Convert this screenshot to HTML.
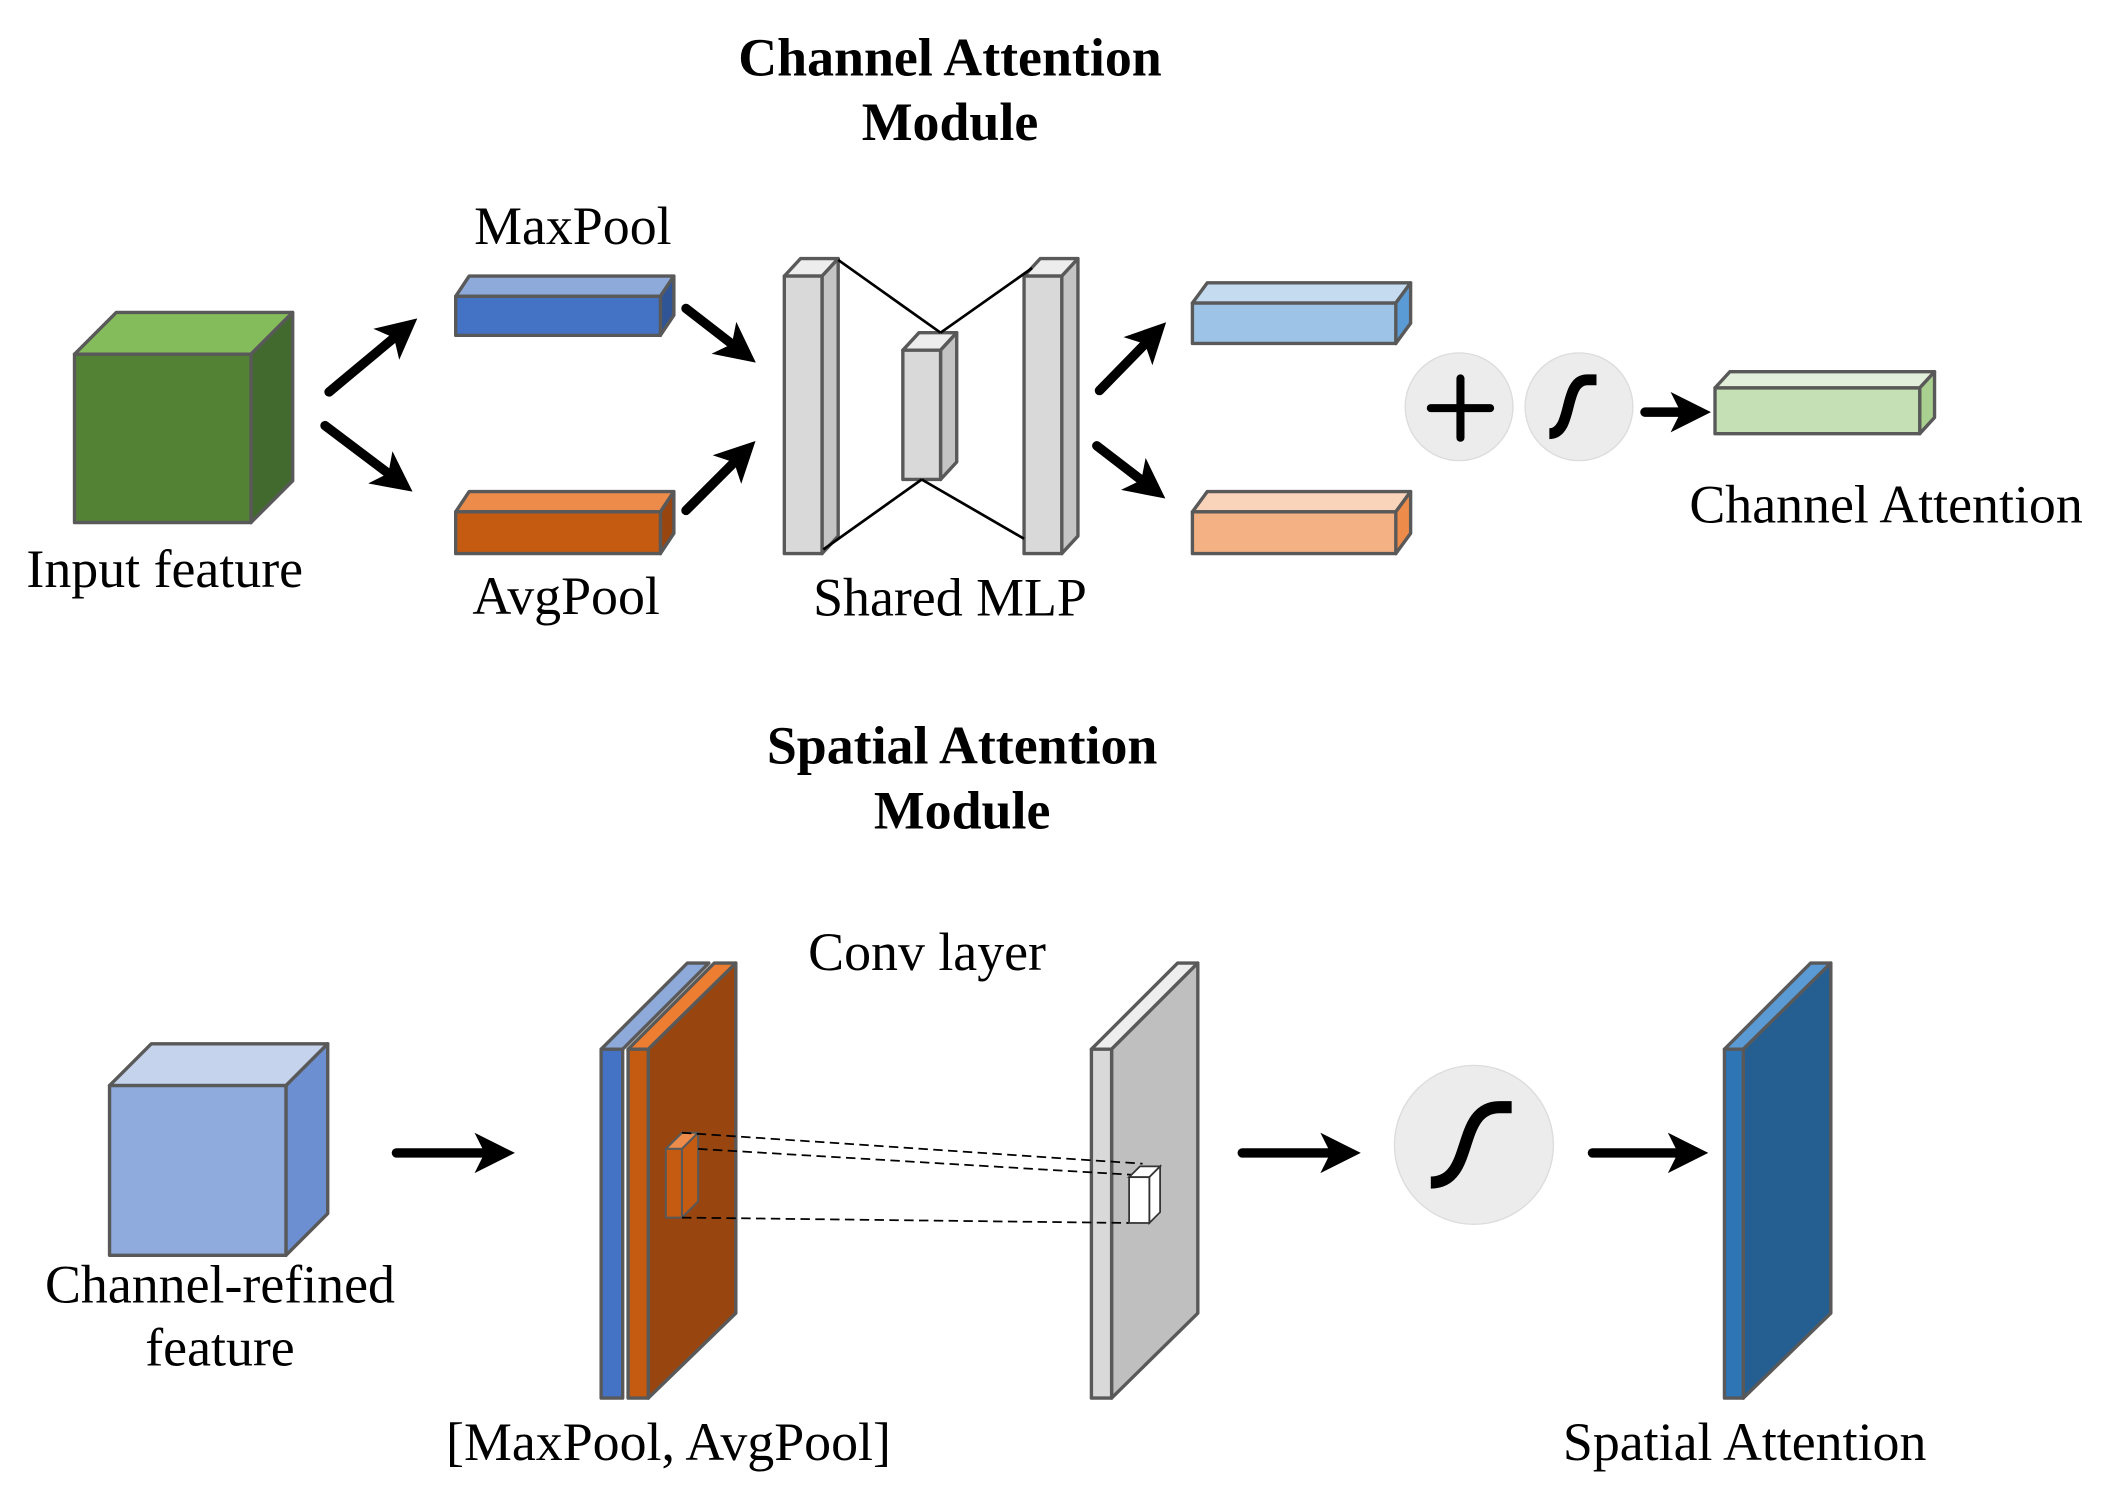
<!DOCTYPE html>
<html><head><meta charset="utf-8"><style>html,body{margin:0;padding:0;background:#fff}svg{display:block}text{font-family:"Liberation Serif",serif;fill:#000}</style></head>
<body>
<svg width="2102" height="1491" viewBox="0 0 1560 1107" xmlns="http://www.w3.org/2000/svg">
<defs>
<marker id="ah" markerWidth="30" markerHeight="30" refX="4" refY="4" orient="auto" markerUnits="userSpaceOnUse" viewBox="0 0 8 8"><path d="M0,0 L8,4 L0,8 L2,4 Z" fill="#000"/></marker>
</defs>
<g stroke="#595959" stroke-width="2.5" stroke-linejoin="round">
<polygon points="55,263 86,232 217,232 186,263" fill="#84bc5c"/>
<polygon points="186,263 217,232 217,357 186,388" fill="#426a2e"/>
<rect x="55" y="263" width="131" height="125" fill="#548235"/>
<polygon points="338,220 348,205 500,205 490,220" fill="#8eaadb"/>
<polygon points="490,220 500,205 500,234 490,249" fill="#2f5597"/>
<rect x="338" y="220" width="152" height="29" fill="#4472c4"/>
<polygon points="338,380 348,365 500,365 490,380" fill="#ed8b4a"/>
<polygon points="490,380 500,365 500,396 490,411" fill="#984510"/>
<rect x="338" y="380" width="152" height="31" fill="#c55a11"/>
<polygon points="582,205 594,192 622,192 610,205" fill="#ededed"/>
<polygon points="610,205 622,192 622,398 610,411" fill="#c4c4c4"/>
<rect x="582" y="205" width="28" height="206" fill="#d9d9d9"/>
<polygon points="670,260 682,247 710,247 698,260" fill="#ededed"/>
<polygon points="698,260 710,247 710,343 698,356" fill="#c4c4c4"/>
<rect x="670" y="260" width="28" height="96" fill="#d9d9d9"/>
<polygon points="760,205 772,192 800,192 788,205" fill="#ededed"/>
<polygon points="788,205 800,192 800,398 788,411" fill="#c4c4c4"/>
<rect x="760" y="205" width="28" height="206" fill="#d9d9d9"/>
</g>
<g stroke="#000" stroke-width="2">
<line x1="622" y1="193" x2="698" y2="247"/><line x1="698" y1="247" x2="766" y2="199"/>
<line x1="611" y1="408" x2="684" y2="356"/><line x1="684" y1="356" x2="760" y2="400"/>
</g>
<g stroke="#595959" stroke-width="2.5" stroke-linejoin="round">
<polygon points="885,225 896,210 1047,210 1036,225" fill="#c5dbf0"/>
<polygon points="1036,225 1047,210 1047,240 1036,255" fill="#5b9bd5"/>
<rect x="885" y="225" width="151" height="30" fill="#9dc3e6"/>
<polygon points="885,380 896,365 1047,365 1036,380" fill="#fad3bb"/>
<polygon points="1036,380 1047,365 1047,396 1036,411" fill="#ed8b4a"/>
<rect x="885" y="380" width="151" height="31" fill="#f4b183"/>
<polygon points="1273,288 1284,276 1436,276 1425,288" fill="#e2efda"/>
<polygon points="1425,288 1436,276 1436,310 1425,322" fill="#a9d08e"/>
<rect x="1273" y="288" width="152" height="34" fill="#c5e0b4"/>
</g>
<g fill="#ececec" stroke="#dcdcdc" stroke-width="1">
<ellipse cx="1083" cy="302" rx="40" ry="40"/><ellipse cx="1172" cy="302" rx="40" ry="40"/>
<circle cx="1094" cy="850" r="59"/>
</g>
<g stroke="#000" stroke-width="6" stroke-linecap="round" fill="none">
<line x1="1062" y1="303" x2="1106" y2="303"/><line x1="1084" y1="281" x2="1084" y2="325"/>
</g>
<path d="M1150,322 C1168,322 1160,282 1178,282 L1185,282" stroke="#000" stroke-width="8" fill="none"/>
<path d="M1062,878 C1095,878 1080,822 1113,822 L1122,822" stroke="#000" stroke-width="9" fill="none"/>
<g stroke="#000" stroke-width="7" stroke-linecap="round" marker-end="url(#ah)">
<line x1="244" y1="291" x2="298" y2="246"/>
<line x1="241" y1="316" x2="294" y2="356"/>
<line x1="509" y1="229" x2="549" y2="260"/>
<line x1="509" y1="379" x2="550" y2="338"/>
<line x1="816" y1="290" x2="855" y2="250"/>
<line x1="814" y1="331" x2="853" y2="361"/>
<line x1="1221" y1="306" x2="1255" y2="306"/>
<line x1="294" y1="856" x2="367" y2="856"/>
<line x1="922" y1="856" x2="995" y2="856"/>
<line x1="1182" y1="856" x2="1253" y2="856"/>
</g>
<g stroke="#595959" stroke-width="2.5" stroke-linejoin="round">
<polygon points="81,806 112,775 243,775 212,806" fill="#c5d3ec"/>
<polygon points="212,806 243,775 243,901 212,932" fill="#6b8fd1"/>
<rect x="81" y="806" width="131" height="126" fill="#8faadc"/>
<polygon points="446,779 510,715 526,715 462,779" fill="#8eaadb"/>
<rect x="446" y="779" width="16" height="259" fill="#4472c4"/>
<polygon points="466,779 530,715 546,715 481,779" fill="#ed7d31"/>
<polygon points="481,779 546,715 546,975 481,1038" fill="#984510"/>
<rect x="466" y="779" width="15" height="259" fill="#c55a11"/>
<polygon points="494,853 506,841 518,841 506,853" fill="#ed8b4a" stroke-width="1.5"/>
<polygon points="506,853 518,841 518,892 506,904" fill="#c55a11" stroke-width="1.5"/>
<rect x="494" y="853" width="12" height="51" fill="#c55a11" stroke-width="1.5"/>
<polygon points="810,779 874,715 889,715 825,779" fill="#eeeeee"/>
<polygon points="825,779 889,715 889,975 825,1038" fill="#bfbfbf"/>
<rect x="810" y="779" width="15" height="259" fill="#d9d9d9"/>
<polygon points="1280,779 1344,715 1359,715 1294,779" fill="#5b9bd5"/>
<polygon points="1294,779 1359,715 1359,975 1294,1038" fill="#255e91"/>
<rect x="1280" y="779" width="14" height="259" fill="#2e75b6"/>
</g>
<g stroke="#000" stroke-width="1.3" stroke-dasharray="7,4">
<line x1="506" y1="841" x2="848" y2="864"/>
<line x1="518" y1="853" x2="853" y2="873"/>
<line x1="506" y1="904" x2="838" y2="908"/>
</g>
<g stroke="#333" stroke-width="1.3" fill="#fff">
<polygon points="838,874 846,866 861,866 853,874"/>
<polygon points="853,874 861,866 861,900 853,908"/>
<rect x="838" y="874" width="15" height="34"/>
</g>
<g font-size="40" text-anchor="middle">
<text x="705" y="56" font-weight="bold">Channel Attention</text>
<text x="705" y="104" font-weight="bold">Module</text>
<text x="714" y="567" font-weight="bold">Spatial Attention</text>
<text x="714" y="615" font-weight="bold">Module</text>
<text x="425" y="181">MaxPool</text>
<text x="420" y="456">AvgPool</text>
<text x="122" y="436">Input feature</text>
<text x="705" y="457">Shared MLP</text>
<text x="1400" y="388">Channel Attention</text>
<text x="688" y="720">Conv layer</text>
<text x="163" y="967">Channel-refined</text>
<text x="163" y="1014">feature</text>
<text x="496" y="1084">[MaxPool, AvgPool]</text>
<text x="1295" y="1084">Spatial Attention</text>
</g>
</svg>
</body></html>
